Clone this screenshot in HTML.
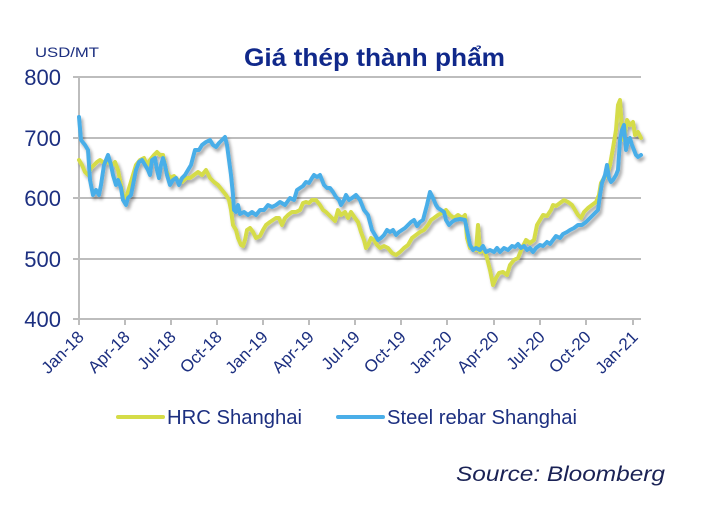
<!DOCTYPE html>
<html><head><meta charset="utf-8"><style>
html,body{margin:0;padding:0;background:#fff;width:716px;height:512px;overflow:hidden}
svg{display:block}
</style></head><body>
<svg width="716" height="512" viewBox="0 0 716 512" xmlns="http://www.w3.org/2000/svg" font-family="Liberation Sans, Arial, sans-serif">
<defs><filter id="sh" x="-5%" y="-5%" width="110%" height="120%"><feGaussianBlur in="SourceAlpha" stdDeviation="1.5"/><feOffset dx="2" dy="3"/><feComponentTransfer><feFuncA type="linear" slope="0.35"/></feComponentTransfer><feMerge><feMergeNode/><feMergeNode in="SourceGraphic"/></feMerge></filter></defs>
<text x="35" y="57" font-size="14" fill="#1c2f80" textLength="64" lengthAdjust="spacingAndGlyphs">USD/MT</text>
<text x="244" y="66" font-size="25" font-weight="bold" fill="#10288a" textLength="261" lengthAdjust="spacingAndGlyphs">Giá thép thành phẩm</text>
<g stroke="#bdbdbd" stroke-width="2">
<line x1="73" y1="77" x2="641" y2="77"/><line x1="73" y1="138" x2="641" y2="138"/><line x1="73" y1="198" x2="641" y2="198"/><line x1="73" y1="259" x2="641" y2="259"/><line x1="73" y1="319" x2="641" y2="319"/>
<line x1="79" y1="77" x2="79" y2="319"/>
</g>
<g stroke="#bdbdbd" stroke-width="2">
<line x1="79" y1="319" x2="79" y2="325"/><line x1="125" y1="319" x2="125" y2="325"/><line x1="171" y1="319" x2="171" y2="325"/><line x1="217" y1="319" x2="217" y2="325"/><line x1="263" y1="319" x2="263" y2="325"/><line x1="309" y1="319" x2="309" y2="325"/><line x1="355" y1="319" x2="355" y2="325"/><line x1="401" y1="319" x2="401" y2="325"/><line x1="447" y1="319" x2="447" y2="325"/><line x1="494" y1="319" x2="494" y2="325"/><line x1="540" y1="319" x2="540" y2="325"/><line x1="586" y1="319" x2="586" y2="325"/><line x1="633" y1="319" x2="633" y2="325"/>
</g>
<g font-size="22" fill="#1c2f80" text-anchor="end">
<text x="61" y="85">800</text><text x="61" y="146">700</text><text x="61" y="206">600</text><text x="61" y="267">500</text><text x="61" y="327">400</text>
</g>
<g font-size="17" fill="#1c2f80" text-anchor="end">
<text transform="translate(85,338) rotate(-45)">Jan-18</text>
<text transform="translate(131,338) rotate(-45)">Apr-18</text>
<text transform="translate(177,338) rotate(-45)">Jul-18</text>
<text transform="translate(223,338) rotate(-45)">Oct-18</text>
<text transform="translate(269,338) rotate(-45)">Jan-19</text>
<text transform="translate(315,338) rotate(-45)">Apr-19</text>
<text transform="translate(361,338) rotate(-45)">Jul-19</text>
<text transform="translate(407,338) rotate(-45)">Oct-19</text>
<text transform="translate(453,338) rotate(-45)">Jan-20</text>
<text transform="translate(500,338) rotate(-45)">Apr-20</text>
<text transform="translate(546,338) rotate(-45)">Jul-20</text>
<text transform="translate(592,338) rotate(-45)">Oct-20</text>
<text transform="translate(639,338) rotate(-45)">Jan-21</text>
</g>
<g fill="none" stroke-width="4" stroke-linejoin="round" stroke-linecap="round" filter="url(#sh)">
<polyline stroke="#d5dc48" points="79,160 82,165 85,172 88,175 91,168 94,165 97,162 100,160 104,163 108,162 112,165 115,162 118,170 120,180 122,190 124,200 127,195 130,185 133,175 136,165 140,160 144,158 147,165 150,160 154,155 157,152 160,155 163,155 166,170 170,178 174,176 178,180 182,182 186,178 190,178 194,175 198,172 202,175 206,170 210,178 214,182 218,185 222,190 226,195 229,200 231,210 233,225 236,230 238,238 241,245 243,246 245,240 247,230 250,228 253,232 256,238 260,236 263,230 266,225 270,222 273,220 276,218 279,218 282,225 285,218 288,215 292,212 296,212 300,210 303,203 306,202 309,203 312,200 316,200 320,205 323,210 326,212 329,215 332,218 335,221 338,210 341,215 345,212 348,218 351,212 355,218 358,222 361,232 364,240 366,248 368,245 371,238 374,240 377,245 380,248 384,246 388,248 392,253 396,255 400,252 404,248 408,245 412,238 416,235 420,232 424,230 428,225 431,220 434,218 438,215 442,213 446,210 450,215 454,218 458,215 462,218 465,215 467,238 470,248 473,248 476,250 478,225 480,252 484,250 487,258 490,270 493,285 496,278 499,273 503,272 507,275 510,265 514,260 518,258 522,248 526,240 530,243 534,240 537,225 540,220 543,215 547,216 551,210 553,205 556,206 560,203 564,200 568,202 572,205 575,210 578,215 581,218 584,212 588,208 592,205 596,202 599,195 601,183 604,178 607,175 610,165 613,148 616,130 618,105 620,100 622,130 624,140 627,120 630,125 633,122 635,135 638,132 641,138"/>
<polyline stroke="#4aaee8" points="79,117 81,140 85,145 88,150 90,180 93,195 96,190 99,195 101,185 104,165 106,160 108,155 111,165 113,175 116,185 118,180 121,188 123,200 126,205 128,198 131,195 133,185 136,170 139,162 142,160 145,165 148,170 150,175 152,160 155,158 157,170 159,178 161,165 163,158 165,165 167,175 170,185 173,180 176,178 179,185 182,178 185,175 188,170 191,165 195,150 199,150 202,145 206,142 210,140 213,145 216,147 219,143 222,140 225,137 227,145 229,160 231,175 233,195 234,210 236,212 238,205 240,214 244,212 248,215 252,212 256,215 260,210 264,210 268,205 272,207 276,205 280,202 285,205 290,198 294,200 297,190 300,188 303,186 306,182 309,183 312,178 314,175 317,177 320,175 322,180 324,185 327,188 330,188 333,192 336,197 339,200 341,205 344,200 346,195 349,200 352,198 356,195 360,200 364,210 368,215 372,230 375,235 378,240 381,238 384,235 387,230 390,232 393,230 396,235 399,232 402,230 405,228 408,225 411,222 414,220 417,226 420,222 423,220 427,205 430,192 433,198 436,205 438,208 441,210 444,212 446,220 449,225 452,222 455,220 460,219 465,220 467,230 470,245 473,250 476,248 480,250 483,246 486,252 490,250 494,252 497,248 500,252 504,248 508,250 512,246 515,247 518,244 521,248 524,246 527,250 530,248 533,252 536,248 540,245 543,246 547,242 550,244 553,240 556,236 560,238 563,234 567,232 570,230 574,228 578,225 582,225 586,222 590,218 594,214 598,210 600,195 602,183 605,175 607,165 609,178 611,182 613,180 616,175 618,170 620,140 622,130 624,125 626,150 628,140 630,138 632,145 634,150 636,155 638,157 641,155"/>
</g>
<line x1="118" y1="417" x2="163" y2="417" stroke="#d5dc48" stroke-width="4" stroke-linecap="round"/>
<text x="167" y="424" font-size="20" fill="#1c2f80" textLength="135" lengthAdjust="spacingAndGlyphs">HRC Shanghai</text>
<line x1="338" y1="417" x2="383" y2="417" stroke="#4aaee8" stroke-width="4" stroke-linecap="round"/>
<text x="387" y="424" font-size="20" fill="#1c2f80" textLength="190" lengthAdjust="spacingAndGlyphs">Steel rebar Shanghai</text>
<text x="456" y="481" font-size="21" font-style="italic" fill="#1a2255" textLength="209" lengthAdjust="spacingAndGlyphs">Source: Bloomberg</text>
</svg>
</body></html>
